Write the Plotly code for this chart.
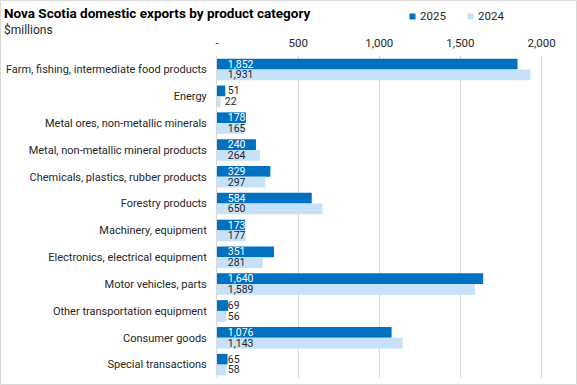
import plotly.graph_objects as go

categories = [
    "Farm, fishing, intermediate food products",
    "Energy",
    "Metal ores, non-metallic minerals",
    "Metal, non-metallic mineral products",
    "Chemicals, plastics, rubber products",
    "Forestry products",
    "Machinery, equipment",
    "Electronics, electrical equipment",
    "Motor vehicles, parts",
    "Other transportation equipment",
    "Consumer goods",
    "Special transactions",
]
values_2025 = [1852, 51, 178, 240, 329, 584, 173, 351, 1640, 69, 1076, 65]
values_2024 = [1931, 22, 165, 264, 297, 650, 177, 281, 1589, 56, 1143, 58]
series_names = ["2025", "2024"]
tick_vals = [0, 500, 1000, 1500, 2000]
tick_text = ["-", "500", "1,000", "1,500", "2,000"]

FONT = "Roboto, Liberation Sans, Arial, sans-serif"
C25 = "#0070C0"
C24 = "#C5E2FA"
DARK = "#262626"

W, H = 577, 385
ML, MR, MT, MB = 217, 3, 56, 7
pw = W - ML - MR
ph = H - MT - MB


def px_x(x):
    return (x - ML) / pw


def px_y(y):
    return 1 - (y - MT) / ph


def lab(v):
    return "\u00a0\u00a0\u00a0" + f"{v:,}"


fig = go.Figure()
fig.add_trace(go.Bar(
    name=series_names[0], y=categories, x=values_2025, orientation="h",
    marker=dict(color=C25, line=dict(width=0)),
    text=[lab(v) for v in values_2025], textposition="inside",
    insidetextanchor="start", constraintext="none", textangle=0,
    insidetextfont=dict(family=FONT, size=10.5,
                        color=["white" if v > 120 else DARK for v in values_2025]),
    hoverinfo="skip", showlegend=False,
))
fig.add_trace(go.Bar(
    name=series_names[1], y=categories, x=values_2024, orientation="h",
    marker=dict(color=C24, line=dict(width=0)),
    text=[lab(v) for v in values_2024], textposition="inside",
    insidetextanchor="start", constraintext="none", textangle=0,
    insidetextfont=dict(family=FONT, size=10.5, color=DARK),
    hoverinfo="skip", showlegend=False,
))

annotations = [
    dict(text="<b>Nova Scotia domestic exports by product category</b>",
         xref="paper", yref="paper", x=px_x(2), y=px_y(3),
         xanchor="left", yanchor="top", showarrow=False,
         font=dict(family=FONT, size=13.5, color="black")),
    dict(text="$millions",
         xref="paper", yref="paper", x=px_x(2), y=px_y(21),
         xanchor="left", yanchor="top", showarrow=False,
         font=dict(family=FONT, size=12, color=DARK)),
]
shapes = [dict(type="rect", xref="paper", yref="paper",
               x0=px_x(0.5), x1=px_x(W - 0.5), y0=px_y(H - 0.5), y1=px_y(0.5),
               line=dict(color="#D9D9D9", width=1), layer="below")]

# legend: small square swatches + labels
for nm, col, sx in ((series_names[0], C25, 409.5), (series_names[1], C24, 467.5)):
    shapes.append(dict(type="rect", xref="paper", yref="paper",
                       x0=px_x(sx), x1=px_x(sx + 6), y0=px_y(19.5), y1=px_y(13.5),
                       fillcolor=col, line=dict(width=0)))
    annotations.append(dict(text=nm, xref="paper", yref="paper",
                            x=px_x(sx + 8), y=px_y(16.5), xanchor="left",
                            yanchor="middle", showarrow=False,
                            font=dict(family=FONT, size=11.5, color=DARK)))

fig.update_layout(
    width=W, height=H,
    margin=dict(l=ML, r=MR, t=MT, b=MB, autoexpand=False),
    paper_bgcolor="white", plot_bgcolor="white",
    barmode="group", bargap=0.2, bargroupgap=0,
    font=dict(family=FONT, size=11, color=DARK),
    showlegend=False,
    xaxis=dict(range=[0, 2200], side="top", tickvals=tick_vals, ticktext=tick_text,
               showgrid=True, gridcolor="#D9D9D9", gridwidth=1,
               zeroline=False, showline=False, ticks="", automargin=False,
               tickfont=dict(family=FONT, size=11.5, color=DARK), ticklabelstandoff=6),
    yaxis=dict(autorange="reversed", showgrid=False, ticks="", showline=True,
               linecolor="#D9D9D9", linewidth=1, automargin=False,
               tickfont=dict(family=FONT, size=11, color=DARK), ticklabelstandoff=7),
    annotations=annotations,
    shapes=shapes,
)

fig.write_html("out.html",
               config={"displayModeBar": False, "staticPlot": True},
               post_script="document.body.style.margin='0px';")
